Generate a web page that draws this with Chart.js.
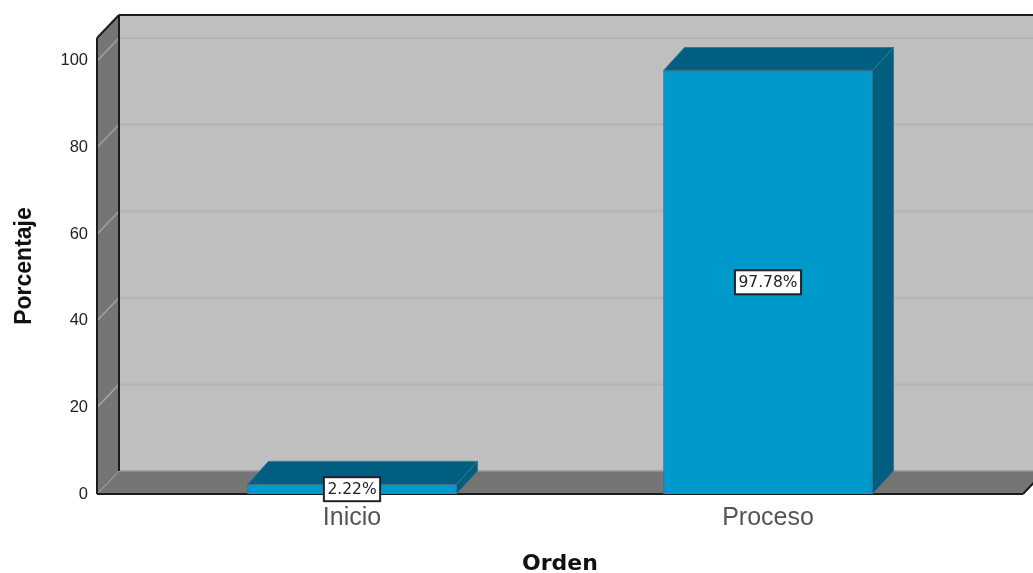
<!DOCTYPE html>
<html>
<head>
<meta charset="utf-8">
<script src="https://cdn.jsdelivr.net/npm/chart.js@4"></script>
<style>
html, body { margin: 0; padding: 0; background: #fff; overflow: hidden; }
canvas { display: block; }
</style>
</head>
<body>
<canvas id="myChart" width="1033" height="573"></canvas>
<script>
const CATEGORIES = ['Inicio', 'Proceso'];
const VALUES = [2.22, 97.78];
const Y_TICKS = [0, 20, 40, 60, 80, 100];

const DEPTH_X = 22;
const DEPTH_Y = 23;
const BAR_DEPTH_X = 21;

function poly(ctx, pts, fill, stroke, lw) {
    ctx.beginPath();
    pts.forEach((p, i) => i ? ctx.lineTo(p[0], p[1]) : ctx.moveTo(p[0], p[1]));
    ctx.closePath();
    if (fill) { ctx.fillStyle = fill; ctx.fill(); }
    if (stroke) { ctx.strokeStyle = stroke; ctx.lineWidth = lw || 1; ctx.stroke(); }
}

function line(ctx, x1, y1, x2, y2, color, lw) {
    ctx.beginPath();
    ctx.moveTo(x1, y1);
    ctx.lineTo(x2, y2);
    ctx.strokeStyle = color;
    ctx.lineWidth = lw;
    ctx.stroke();
}

// back wall, side wall, floor and the grid lines that run over them
const walls = {
    id: 'walls',
    beforeDatasetsDraw(chart) {
        const { ctx, chartArea: a, scales: { y } } = chart;
        const bx = DEPTH_X, by = DEPTH_Y;
        ctx.save();
        poly(ctx, [[a.left + bx, a.top - by], [a.right + bx, a.top - by], [a.right + bx, a.bottom - by], [a.left + bx, a.bottom - by]], '#bfbfbf');
        poly(ctx, [[a.left, a.top], [a.left + bx, a.top - by], [a.left + bx, a.bottom - by], [a.left, a.bottom]], '#757575');
        poly(ctx, [[a.left, a.bottom], [a.left + bx, a.bottom - by], [a.right + bx, a.bottom - by], [a.right, a.bottom]], '#757575');
        Y_TICKS.forEach(t => {
            if (t === 0) return;
            const py = y.getPixelForValue(t);
            line(ctx, a.left, py, a.left + bx, py - by, '#a3a3a3', 1.5);
            line(ctx, a.left + bx, py - by, a.right + bx, py - by, '#b4b4b4', 2);
        });
        line(ctx, a.left, a.bottom, a.left + bx, a.bottom - by, '#a3a3a3', 1);
        line(ctx, a.left + bx, a.bottom - by, a.right + bx, a.bottom - by, '#969696', 1.5);
        line(ctx, a.left + bx, a.top - by, a.left + bx, a.bottom - by, '#1c1c1c', 2);
        line(ctx, a.left + bx, a.top - by, a.right + bx, a.top - by, '#1c1c1c', 2);
        line(ctx, a.left, a.top, a.left + bx, a.top - by, '#1c1c1c', 2);
        line(ctx, a.left, a.top, a.left, a.bottom, '#1c1c1c', 2);
        line(ctx, a.left, a.bottom, a.right, a.bottom, '#1c1c1c', 2);
        line(ctx, a.right, a.bottom, a.right + bx, a.bottom - by, '#1c1c1c', 2);
        ctx.restore();
    }
};

// top and side of each bar, taken from the bar elements
const barFaces = {
    id: 'barFaces',
    afterDatasetsDraw(chart) {
        const { ctx } = chart;
        ctx.save();
        chart.getDatasetMeta(0).data.forEach(b => {
            const l = b.x - b.width / 2, r = b.x + b.width / 2;
            poly(ctx, [[l, b.y], [l + BAR_DEPTH_X, b.y - DEPTH_Y], [r + BAR_DEPTH_X, b.y - DEPTH_Y], [r, b.y]], '#005f80', '#3f7287', 1);
            poly(ctx, [[r, b.y], [r + BAR_DEPTH_X, b.y - DEPTH_Y], [r + BAR_DEPTH_X, b.base - DEPTH_Y], [r, b.base]], '#005f80', '#3f7287', 1);
        });
        ctx.restore();
    }
};

// white boxes with the percentages
const valueBoxes = {
    id: 'valueBoxes',
    afterDatasetsDraw(chart) {
        const { ctx } = chart;
        ctx.save();
        ctx.font = '15.5px "DejaVu Sans"';
        ctx.textAlign = 'center';
        ctx.textBaseline = 'middle';
        chart.getDatasetMeta(0).data.forEach((b, i) => {
            const txt = VALUES[i].toFixed(2) + '%';
            const w = ctx.measureText(txt).width + 7;
            const h = 24;
            const cy = (b.y + b.base) / 2;
            ctx.fillStyle = '#fff';
            ctx.fillRect(b.x - w / 2, cy - h / 2, w, h);
            ctx.strokeStyle = '#222';
            ctx.lineWidth = 2;
            ctx.strokeRect(b.x - w / 2, cy - h / 2, w, h);
            ctx.fillStyle = '#222';
            ctx.fillText(txt, b.x, cy + 1);
        });
        ctx.restore();
    }
};

new Chart(document.getElementById('myChart').getContext('2d'), {
    type: 'bar',
    data: {
        datasets: [{
            label: 'Porcentaje',
            data: VALUES.map((v, i) => ({ x: i, y: v })),
            backgroundColor: '#0099cc',
            borderColor: '#3f7287',
            borderWidth: 1,
            barThickness: 209
        }]
    },
    plugins: [walls, barFaces, valueBoxes],
    options: {
        responsive: false,
        animation: false,
        layout: { padding: { top: 38, right: 10, left: 0, bottom: 0 } },
        plugins: { legend: { display: false }, tooltip: { enabled: false } },
        scales: {
            x: {
                type: 'linear',
                offset: false,
                min: -0.613,
                max: 1.613,
                afterBuildTicks(scale) { scale.ticks = CATEGORIES.map((c, i) => ({ value: i })); },
                afterFit(scale) { scale.height = 79; },
                grid: { display: false, drawTicks: false },
                border: { display: false },
                ticks: {
                    autoSkip: false,
                    maxRotation: 0,
                    padding: 9,
                    color: '#555',
                    font: { family: '"Liberation Sans"', size: 25 },
                    callback: v => CATEGORIES[v]
                },
                title: {
                    display: true,
                    text: 'Orden',
                    color: '#111',
                    font: { family: '"DejaVu Sans"', size: 22, weight: 'bold' },
                    padding: { top: 0, bottom: -4 }
                }
            },
            y: {
                min: 0,
                max: 105.3,
                afterBuildTicks(scale) { scale.ticks = Y_TICKS.map(t => ({ value: t })); },
                afterFit(scale) { scale.width = 97; },
                grid: { display: false, drawTicks: false },
                border: { display: false },
                ticks: {
                    padding: 9,
                    color: '#222',
                    font: { family: '"Liberation Sans"', size: 16.5 }
                },
                title: {
                    display: true,
                    text: 'Porcentaje',
                    color: '#111',
                    font: { family: '"Liberation Sans"', size: 23, weight: 'bold' },
                    padding: { top: 11, bottom: 0 }
                }
            }
        }
    }
});
</script>
</body>
</html>
